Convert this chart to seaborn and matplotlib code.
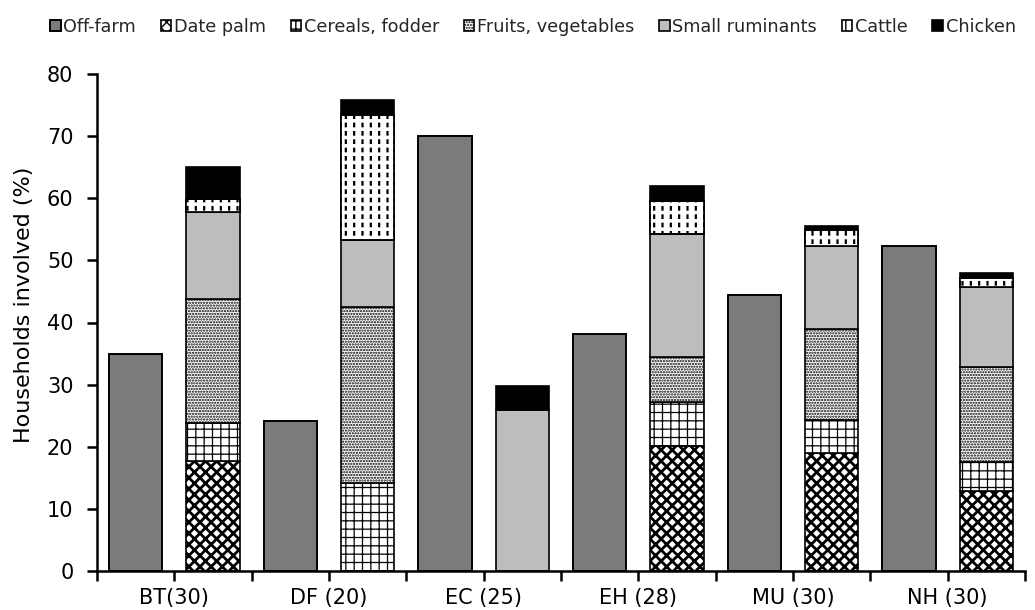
import numpy as np
import matplotlib
matplotlib.use("Agg")
import matplotlib.pyplot as plt
import seaborn as sns

groups = ["BT(30)", "DF (20)", "EC (25)", "EH (28)", "MU (30)", "NH (30)"]
off_farm = [35.0, 24.2, 70.0, 38.2, 44.4, 52.3]
date_palm = [17.7, 0.0, 0.0, 20.1, 19.0, 12.9]
cereals = [6.1, 14.2, 0.0, 7.1, 5.3, 4.6]
fruits = [20.0, 28.3, 0.0, 7.3, 14.6, 15.3]
small_rum = [14.0, 10.8, 25.9, 19.8, 13.4, 12.9]
cattle = [2.1, 20.1, 0.0, 5.3, 2.6, 1.5]
chicken = [5.1, 2.4, 3.9, 2.4, 0.7, 0.8]

labels = ["Off-farm", "Date palm", "Cereals, fodder", "Fruits, vegetables",
          "Small ruminants", "Cattle", "Chicken"]

sns.set_theme(style="ticks")
plt.rcParams["font.family"] = ["DejaVu Sans"]

fig = plt.figure(figsize=(10.35, 6.10), dpi=100)
ax = fig.add_axes([97/1035, 39/610, (1025-97)/1035, (571-74)/610])

n = len(groups)
x_off = np.arange(n) * 2
x_stk = np.arange(n) * 2 + 1
w = 0.69

handles = []
h = ax.bar(x_off, off_farm, width=w, color="#7b7b7b", edgecolor="black", linewidth=1.4, label=labels[0])
handles.append(h)

styles = [
    (date_palm, dict(color="white", hatch="xxx"), 2.0),
    (cereals, dict(color="white", hatch="++"), 0.9),
    (fruits, dict(color="white", hatch="......"), 1.1),
    (small_rum, dict(color="#bdbdbd", hatch=None), 0.9),
    (cattle, dict(color="white", hatch="||"), 1.6),
    (chicken, dict(color="black", hatch=None), 0.9),
]

bottom = np.zeros(n)
for k, (vals, st, hlw) in enumerate(styles):
    vals = np.array(vals)
    mask = vals > 0
    with plt.rc_context({"hatch.linewidth": hlw}):
        b = ax.bar(x_stk[mask], vals[mask], width=w, bottom=bottom[mask],
                   color=st["color"], hatch=st["hatch"], edgecolor="black",
                   linewidth=1.2, label=labels[k + 1])
    if k == 4:
        # break vertical lines into dashes
        with plt.rc_context({"hatch.linewidth": 2.6}):
            ax.bar(x_stk[mask], vals[mask], width=w, bottom=bottom[mask],
                   fill=False, hatch="--", edgecolor="white", linewidth=0)
        ax.bar(x_stk[mask], vals[mask], width=w, bottom=bottom[mask],
               fill=False, edgecolor="black", linewidth=1.2)
    handles.append(b)
    bottom = bottom + vals

ax.set_xlim(-0.5, 2 * n - 0.5)
ax.set_ylim(0, 80)
ax.set_yticks(np.arange(0, 81, 10))
xt = np.arange(-0.5, 2 * n, 1.0)
ax.set_xticks(xt)
xl = []
for i, t in enumerate(xt):
    xl.append(groups[(i - 1) // 2] if i % 2 == 1 else "")
ax.set_xticklabels(xl)

ax.tick_params(axis="both", direction="out", length=7, width=1.8, color="black",
               labelsize=15, labelcolor="black")
ax.tick_params(axis="x", pad=5)
ax.tick_params(axis="y", pad=10)
for s in ["top", "right"]:
    ax.spines[s].set_visible(False)
for s in ["left", "bottom"]:
    ax.spines[s].set_linewidth(1.8)
    ax.spines[s].set_color("black")

ax.set_ylabel("Households involved (%)", fontsize=16, color="black")
ax.yaxis.set_label_coords(-0.068, 0.535)

fig.legend(handles=handles, labels=labels, loc="center left",
           bbox_to_anchor=(50/1035, 1 - 27/610), ncol=7, frameon=False,
           fontsize=12.7, handlelength=0.6, handleheight=0.6,
           handletextpad=0.15, columnspacing=1.4, borderpad=0, borderaxespad=0)

fig.savefig("out.png", dpi=100, facecolor="white")
